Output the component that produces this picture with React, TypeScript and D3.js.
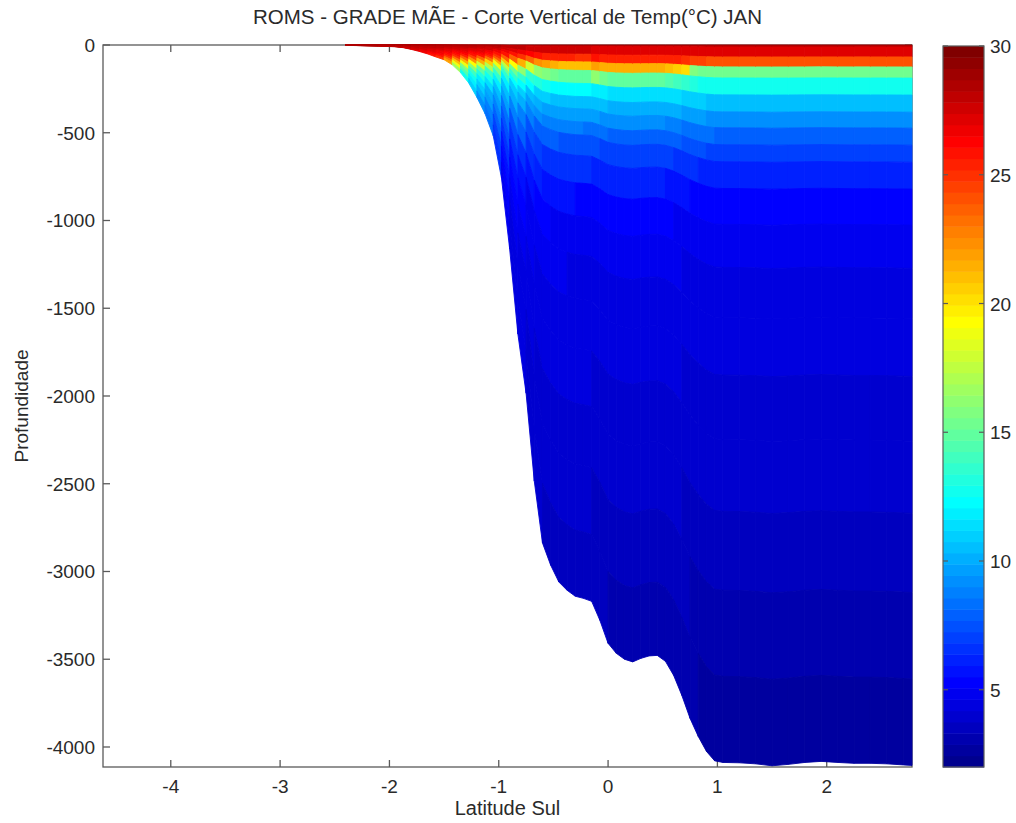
import { useMemo } from 'react';
import * as d3 from 'd3';

// ---- data ----
// bathymetry nodes of the section (latitude, local depth in m)
const bathyLat = [
  -2.4, -2.25, -2.1, -1.95, -1.875, -1.8, -1.725, -1.65, -1.575, -1.5,
  -1.425, -1.35, -1.275, -1.2, -1.125, -1.05, -0.975, -0.9, -0.825, -0.75,
  -0.675, -0.6, -0.525, -0.45, -0.375, -0.3, -0.225, -0.15, -0.075, 0.0,
  0.075, 0.15, 0.225, 0.3, 0.375, 0.45, 0.525, 0.6, 0.675, 0.75,
  0.825, 0.9, 0.975, 1.05, 1.2, 1.35, 1.5, 1.65, 1.8, 1.95,
  2.1, 2.25, 2.4, 2.55, 2.7, 2.78
];
const bathyDepth = [
  2, 4, 6, 10, 15, 25, 37, 51, 68, 84,
  113, 157, 216, 298, 392, 518, 758, 1163, 1647, 1984,
  2485, 2837, 2964, 3060, 3107, 3141, 3153, 3170, 3278, 3409,
  3466, 3500, 3515, 3495, 3481, 3478, 3512, 3592, 3706, 3837,
  3940, 4025, 4079, 4088, 4090, 4096, 4107, 4099, 4088, 4082,
  4088, 4093, 4093, 4096, 4102, 4105
];

// s-levels as a fraction of local depth, surface to bottom
const sigmaLevels = [0, 0.0027, 0.0166, 0.0305, 0.0459, 0.0695, 0.0932, 0.1154, 0.139, 0.1627, 0.2, 0.25, 0.31, 0.38, 0.46, 0.55, 0.65, 0.76, 0.88, 1];

// temperature profiles (deg C) at these depths, one per stretch of the section
const profileDepth = [0, 5, 40, 70, 96, 125, 156, 200, 236, 290, 333, 427, 521, 618, 744, 922, 1150, 1435, 1743, 2070, 2460, 2890, 3362, 3854, 4200];
const tempShelf =   [28.5, 28.4, 27.0, 25.8, 23.0, 19.5, 15.5, 13.0, 12.0, 10.5, 9.8, 8.8, 7.8, 7.1, 6.2, 5.3, 4.8, 4.5, 4.3, 4.1, 3.9, 3.6, 3.2, 2.8, 2.6];
const tempSlope =   [28.5, 28.4, 27.0, 25.5, 23.5, 20.5, 16.5, 13.8, 12.8, 11.2, 10.4, 9.2, 8.0, 7.2, 6.2, 5.3, 4.8, 4.5, 4.3, 4.1, 3.9, 3.6, 3.2, 2.8, 2.6];
const tempCentral = [28.5, 28.4, 27.0, 26.0, 24.8, 22.0, 19.5, 15.0, 12.6, 11.4, 10.7, 9.4, 8.1, 7.2, 6.2, 5.3, 4.8, 4.5, 4.3, 4.1, 3.9, 3.6, 3.2, 2.8, 2.6];
const tempEast =    [28.7, 28.6, 27.0, 25.6, 24.3, 19.0, 15.2, 13.6, 12.8, 11.5, 10.7, 9.4, 8.1, 7.2, 6.2, 5.3, 4.8, 4.5, 4.3, 4.1, 3.9, 3.6, 3.2, 2.8, 2.6];
const profileBreaks = [-1.1, -0.16, 0.68];

const latTicks = [-4, -3, -2, -1, 0, 1, 2];
const depthTicks = [0, -500, -1000, -1500, -2000, -2500, -3000, -3500, -4000];
const colorTicks = [5, 10, 15, 20, 25, 30];
const latRange = [-4.62, 2.78];
const depthRange = [-4114, 0];
const tempRange = [2, 30];

const W = 1016;
const H = 823;
const plot = { left: 103, right: 912, top: 45, bottom: 767 };
const bar = { left: 943, right: 984, top: 46, bottom: 767 };
const font = '"Liberation Sans", Arial, Helvetica, sans-serif';
const axisColor = '#5a5a5a';
const textColor = '#2a2a2a';

// MATLAB jet(64)
function jet(index: number) {
  const n = 16;
  const u = (k: number) => (k < 1 || k > 47 ? 0 : k <= n ? k / n : k <= 2 * n - 1 ? 1 : (3 * n - k) / n);
  return d3.rgb(u(index - 24) * 255, u(index - 8) * 255, u(index + 8) * 255).formatHex();
}
const colorIndex = (t: number) =>
  Math.min(64, Math.max(1, Math.floor(((t - tempRange[0]) / (tempRange[1] - tempRange[0])) * 64) + 1));

export default function App() {
  const x = d3.scaleLinear().domain(latRange).range([plot.left, plot.right]);
  const y = d3.scaleLinear().domain(depthRange).range([plot.bottom, plot.top]);
  const c = d3.scaleLinear().domain(tempRange).range([bar.bottom, bar.top]);

  const cells = useMemo(() => {
    const profiles = [tempShelf, tempSlope, tempCentral, tempEast].map(t =>
      d3.scaleLinear().domain(profileDepth).range(t).clamp(true)
    );
    const region = d3.scaleThreshold<number, number>().domain(profileBreaks).range([0, 1, 2, 3]);
    const line = d3.line<[number, number]>().x(d => x(d[0])).y(d => y(d[1]));
    const out: { d: string; fill: string }[] = [];
    for (let i = 0; i < bathyLat.length - 1; i++) {
      const la = bathyLat[i], lb = bathyLat[i + 1];
      const ha = bathyDepth[i], hb = bathyDepth[i + 1];
      const prof = profiles[region(la)];
      for (let k = 0; k < sigmaLevels.length - 1; k++) {
        const s0 = sigmaLevels[k], s1 = sigmaLevels[k + 1];
        const pts: [number, number][] = [
          [la, -s0 * ha], [lb, -s0 * hb], [lb, -s1 * hb], [la, -s1 * ha]
        ];
        const temp = prof(((s0 + s1) / 2) * Math.max(ha, hb));
        out.push({ d: line(pts) + 'Z', fill: jet(colorIndex(temp)) });
      }
    }
    return out;
  }, []);

  const barSteps = d3.range(64).map(i => ({
    v0: tempRange[0] + (i * (tempRange[1] - tempRange[0])) / 64,
    v1: tempRange[0] + ((i + 1) * (tempRange[1] - tempRange[0])) / 64,
    fill: jet(i + 1)
  }));

  const fmt = (v: number) => String(v).replace('\u2212', '-');

  return (
    <svg width={W} height={H} style={{ position: 'absolute', left: 0, top: 0, background: '#fff' }} fontFamily={font}>
      {/* title */}
      <text x={(plot.left + plot.right) / 2} y={24} textAnchor="middle" fontSize={20.5} fill={textColor}>
        ROMS - GRADE MÃE - Corte Vertical de Temp(°C) JAN
      </text>

      {/* axes box and ticks */}
      <g stroke={axisColor} strokeWidth={1.3} fill="none">
        <rect x={plot.left} y={plot.top} width={plot.right - plot.left} height={plot.bottom - plot.top} />
        {latTicks.map(t => (
          <g key={t}>
            <line x1={x(t)} x2={x(t)} y1={plot.bottom} y2={plot.bottom - 7} />
            <line x1={x(t)} x2={x(t)} y1={plot.top} y2={plot.top + 7} />
          </g>
        ))}
        {depthTicks.map(t => (
          <g key={t}>
            <line x1={plot.left} x2={plot.left + 7} y1={y(t)} y2={y(t)} />
            <line x1={plot.right} x2={plot.right - 7} y1={y(t)} y2={y(t)} />
          </g>
        ))}
      </g>

      {/* vertical section */}
      <g>
        {cells.map((cell, i) => (
          <path key={i} d={cell.d} fill={cell.fill} stroke={cell.fill} strokeWidth={0.9} strokeLinejoin="round" />
        ))}
      </g>

      {/* tick labels */}
      <g fontSize={19} fill={textColor}>
        {latTicks.map(t => (
          <text key={t} x={x(t)} y={793} textAnchor="middle">{fmt(t)}</text>
        ))}
        {depthTicks.map(t => (
          <text key={t} x={95} y={y(t) + 7} textAnchor="end">{fmt(t)}</text>
        ))}
      </g>

      {/* axis labels */}
      <text x={(plot.left + plot.right) / 2} y={815} textAnchor="middle" fontSize={20} fill={textColor}>Latitude Sul</text>
      <text transform={`translate(28,${(plot.top + plot.bottom) / 2}) rotate(-90)`} textAnchor="middle" fontSize={19} fill={textColor}>Profundidade</text>

      {/* colorbar */}
      <g>
        {barSteps.map((s, i) => (
          <rect key={i} x={bar.left} width={bar.right - bar.left} y={c(s.v1)} height={c(s.v0) - c(s.v1) + 0.5} fill={s.fill} />
        ))}
        <rect x={bar.left} y={bar.top} width={bar.right - bar.left} height={bar.bottom - bar.top} fill="none" stroke={axisColor} strokeWidth={1.2} />
        {colorTicks.map(t => (
          <g key={t}>
            <line x1={bar.left} x2={bar.left + 5} y1={c(t)} y2={c(t)} stroke={axisColor} strokeWidth={1.2} />
            <line x1={bar.right} x2={bar.right - 5} y1={c(t)} y2={c(t)} stroke={axisColor} strokeWidth={1.2} />
            <text x={990} y={c(t) + 7} fontSize={19} fill={textColor}>{t}</text>
          </g>
        ))}
      </g>
    </svg>
  );
}
